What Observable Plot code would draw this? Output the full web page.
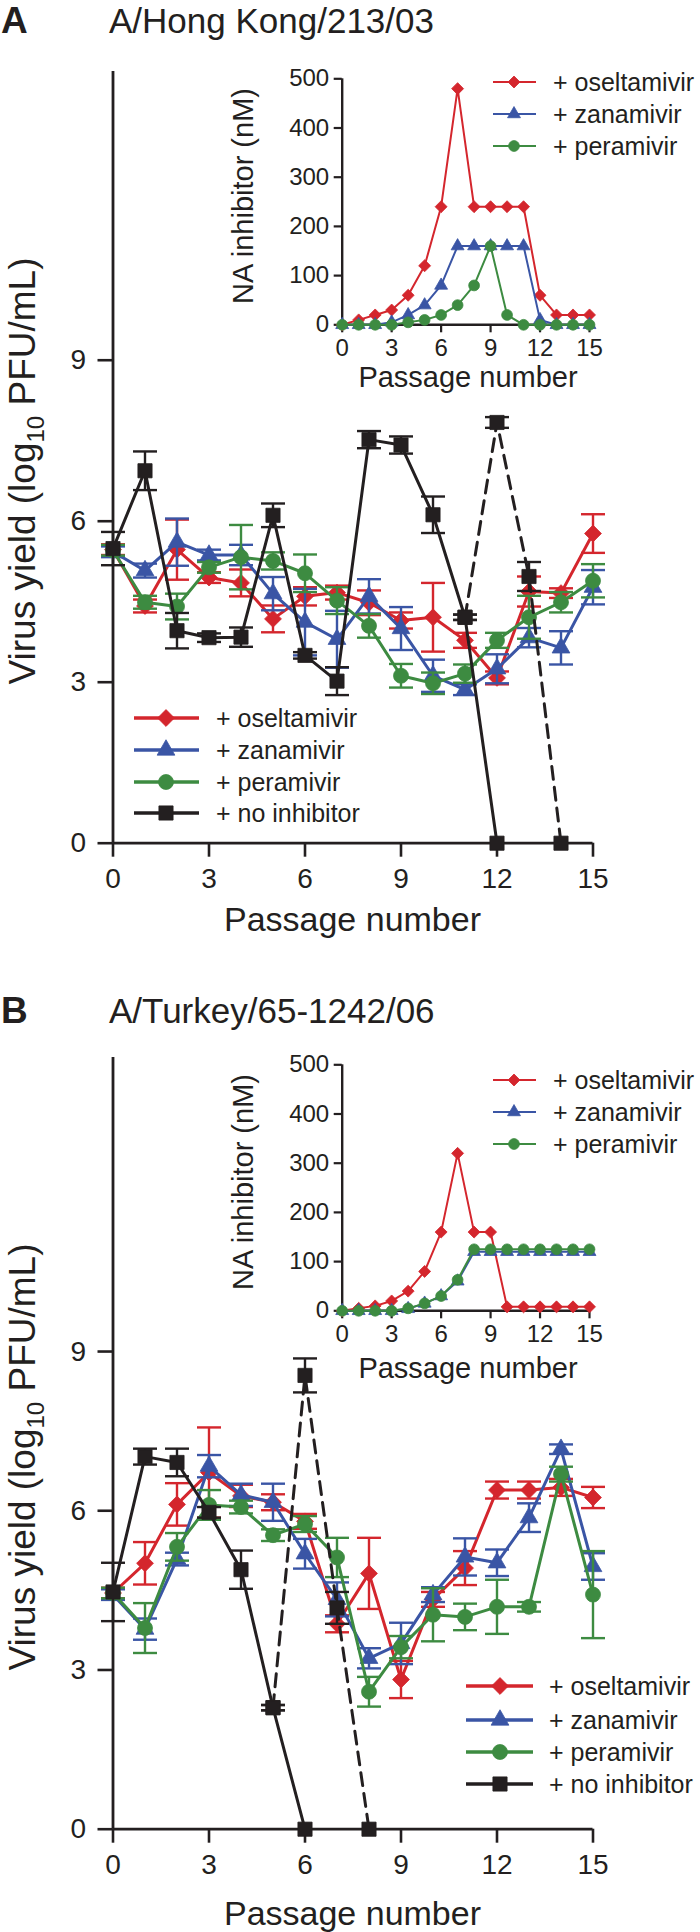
<!DOCTYPE html>
<html><head><meta charset="utf-8">
<script src="https://cdn.jsdelivr.net/npm/d3@7"></script>
<script src="https://cdn.jsdelivr.net/npm/@observablehq/plot@0.6"></script>
<style>
body{margin:0;background:#fff;}
#root{position:relative;width:700px;height:1932px;overflow:hidden;background:#fff;}
.layer{position:absolute;left:0;}
</style></head><body><div id="root"></div>
<script>
// ---------- data ----------
const passages = [0,1,2,3,4,5,6,7,8,9,10,11,12,13,14,15];
const xTicks = [0,3,6,9,12,15];
const yTicksMain = [0,3,6,9];
const yTicksInset = [0,100,200,300,400,500];
const seriesNames = ["+ oseltamivir", "+ zanamivir", "+ peramivir", "+ no inhibitor"];
const panelLetters = ["A", "B"];
const strainNames = ["A/Hong Kong/213/03", "A/Turkey/65-1242/06"];

// Panel A: A/Hong Kong/213/03, virus yield (log10 PFU/mL)
const hkOselt    = [5.47,4.42,5.47,4.95,4.85,4.18,4.60,4.67,4.48,4.15,4.21,3.78,3.08,4.69,4.66,5.77];
const hkOseltErr = [0.10,0.12,0.56,0.10,0.25,0.25,0.17,0.13,0.23,0.15,0.64,0.14,0.12,0.28,0.09,0.36];
const hkZan      = [5.43,5.08,5.61,5.37,5.37,4.65,4.12,3.80,4.60,4.00,3.12,2.86,3.25,3.83,3.64,4.77];
const hkZanErr   = [0.10,0.13,0.44,0.10,0.19,0.31,0.62,0.53,0.32,0.40,0.30,0.10,0.27,0.18,0.31,0.32];
const hkPera     = [5.46,4.49,4.41,5.14,5.33,5.26,5.03,4.52,4.05,3.12,2.98,3.16,3.78,4.21,4.49,4.89];
const hkPeraErr  = [0.10,0.12,0.24,0.10,0.60,0.16,0.35,0.25,0.22,0.22,0.20,0.17,0.14,0.40,0.19,0.31];
const hkNonePass = [0,1,2,3,4,5,6,7,8,9,10,11,12];
const hkNone     = [5.49,6.94,3.96,3.83,3.84,6.11,3.50,3.02,7.52,7.42,6.12,4.21,0];
const hkNoneErr  = [0.31,0.36,0.33,0.08,0.18,0.22,0.06,0.26,0.16,0.16,0.34,0.05,0];
const hkDashPass = [11,12,13,14];
const hkDash     = [4.21,7.84,4.97,0];
const hkDashErr  = [0.05,0.10,0.27,0];
// Panel A inset: NA inhibitor (nM)
const hkDoseOselt = [0,10,20,30,60,120,240,480,240,240,240,240,60,20,20,20];
const hkDoseZan   = [0,0,0,5,20,40,80,160,160,160,160,160,10,0,0,0];
const hkDosePera  = [0,0,0,0,5,10,20,40,80,160,20,0,0,0,0,0];

// Panel B: A/Turkey/65-1242/06
const tkOselt    = [4.45,5.01,6.12,6.72,6.28,6.16,5.80,3.87,4.82,2.82,4.33,4.92,6.39,6.39,6.44,6.25];
const tkOseltErr = [0.10,0.40,0.40,0.85,0.21,0.15,0.14,0.16,0.67,0.35,0.14,0.32,0.16,0.16,0.16,0.20];
const tkZan      = [4.42,3.77,5.09,6.84,6.30,6.16,5.19,4.33,3.22,3.50,4.42,5.13,5.02,5.87,7.16,4.95];
const tkZanErr   = [0.10,0.20,0.12,0.21,0.21,0.35,0.28,0.32,0.19,0.39,0.14,0.35,0.25,0.27,0.09,0.25];
const tkPera     = [4.45,3.79,5.32,6.11,6.07,5.54,5.75,5.12,2.59,3.43,4.04,4.00,4.19,4.19,6.69,4.42];
const tkPeraErr  = [0.10,0.47,0.26,0.28,0.12,0.11,0.15,0.37,0.28,0.21,0.50,0.25,0.51,0.09,0.14,0.82];
const tkNonePass = [0,1,2,3,4,5,6];
const tkNone     = [4.47,7.02,6.91,5.97,4.89,2.29,0];
const tkNoneErr  = [0.55,0.15,0.26,0.10,0.36,0.05,0];
const tkDashPass = [5,6,7,8];
const tkDash     = [2.29,8.55,4.17,0];
const tkDashErr  = [0.05,0.32,0.30,0];
// Panel B inset
const tkDoseOselt = [0,5,10,20,40,80,160,320,160,160,8,8,8,8,8,8];
const tkDoseZan   = [0,0,0,0,4,15,30,60,120,120,120,120,120,120,120,120];
const tkDosePera  = [0,0,0,0,5,15,30,63,125,125,125,125,125,125,125,125];

// ---------- styling ----------
const INK = "#231f20";
const COLORS = ["#d4262d", "#3a55a5", "#3d8b41", INK];
const SYMBOLS = ["diamond2", "triangle", "circle", "square"];
const D3SYM = [d3.symbolDiamond2, d3.symbolTriangle, d3.symbolCircle, d3.symbolSquare];
const MAIN_R = [7.6, 6.6, 7.5, 8];
const INSET_R = [5.4, 4.8, 5.4, 5];
const FONT = '"Liberation Sans", Arial, Helvetica, sans-serif';

const capSym = {draw(ctx, size) { const r = Math.sqrt(size / Math.PI); ctx.moveTo(-r, 0); ctx.lineTo(r, 0); }};

function rows(xs, vs, es) { return xs.map((x, i) => ({x, v: vs[i], e: es ? es[i] : 0})); }

function seriesMarks(data, k, opt) {
  const color = COLORS[k];
  const marks = [];
  if (opt.err) {
    const withErr = data.filter(d => d.e > 0);
    marks.push(
      Plot.ruleX(withErr, {x: "x", y1: d => d.v - d.e, y2: d => d.v + d.e, stroke: color, strokeWidth: 2.4}),
      Plot.dot(withErr, {x: "x", y: d => d.v + d.e, symbol: capSym, r: 12, stroke: color, strokeWidth: 2.4, fill: "none"}),
      Plot.dot(withErr, {x: "x", y: d => d.v - d.e, symbol: capSym, r: 12, stroke: color, strokeWidth: 2.4, fill: "none"})
    );
  }
  marks.push(Plot.line(data, {x: "x", y: "v", stroke: color, strokeWidth: opt.lw, strokeDasharray: opt.dash || null}));
  marks.push(Plot.dot(data, {x: "x", y: "v", symbol: SYMBOLS[k], r: opt.r[k], fill: color, stroke: color, strokeWidth: 0.8}));
  return marks;
}

function legend(svg, items, L) {
  const g = svg.append("g").attr("text-anchor", "start");
  items.forEach((k, i) => {
    const y = L.rows[i];
    g.append("line").attr("x1", L.x1).attr("x2", L.x2).attr("y1", y).attr("y2", y)
      .attr("stroke", COLORS[k]).attr("stroke-width", L.lw);
    g.append("path").attr("transform", `translate(${L.mx},${y})`)
      .attr("d", d3.symbol().type(D3SYM[k]).size(Math.PI * L.r[k] * L.r[k])())
      .attr("fill", COLORS[k]).attr("stroke", COLORS[k]).attr("stroke-width", 0.8);
    g.append("text").attr("x", L.tx).attr("y", y).attr("dy", "0.36em").attr("text-anchor", "start")
      .attr("font-size", L.fs).attr("fill", INK).text(seriesNames[k]);
  });
}

function panel(cfg) {
  const root = document.getElementById("root");
  const main = Plot.plot({
    width: 700, height: cfg.height,
    marginLeft: 112.5, marginRight: 107.5, marginTop: 71, marginBottom: cfg.height - 842.7,
    x: {domain: [0, 15]}, y: {domain: [0, cfg.yMax]},
    style: {fontFamily: FONT, color: INK, background: "transparent", overflow: "visible"},
    marks: [
      Plot.ruleX([0], {stroke: INK, strokeWidth: 2.8}),
      Plot.ruleY([0], {stroke: INK, strokeWidth: 2.8}),
      Plot.axisX({ticks: xTicks, tickSize: 14, tickPadding: 11, fontSize: 28, strokeWidth: 2.6, label: null}),
      Plot.axisY({ticks: yTicksMain, tickSize: 15, tickPadding: 12, fontSize: 28, strokeWidth: 2.6, label: null}),
      ...cfg.series.flatMap(s => seriesMarks(s.data, s.k, {err: true, lw: 3, r: MAIN_R, dash: s.dash}))
    ]
  });
  main.classList.add("layer");
  main.style.top = cfg.top + "px";
  root.appendChild(main);
  const svg = d3.select(main);
  svg.append("text").attr("x", 1).attr("y", cfg.titleY).attr("text-anchor", "start").attr("font-size", 37)
    .attr("font-weight", "bold").attr("fill", INK).text(cfg.letter);
  svg.append("text").attr("x", 109).attr("y", cfg.titleY).attr("text-anchor", "start").attr("font-size", 35)
    .attr("fill", INK).text(cfg.strain);
  svg.append("text").attr("x", 352.5).attr("y", cfg.xLabelY).attr("dy", "0.36em").attr("text-anchor", "middle")
    .attr("font-size", 34).attr("fill", INK).text("Passage number");
  const yl = svg.append("text").attr("transform", `translate(35,471) rotate(-90)`).attr("text-anchor", "middle")
    .attr("font-size", 37).attr("fill", INK);
  yl.append("tspan").text("Virus yield (log");
  yl.append("tspan").attr("font-size", 24).attr("dy", 9).text("10");
  yl.append("tspan").attr("dy", -9).text(" PFU/mL)");
  legend(svg, [0, 1, 2, 3], {x1: cfg.mainLeg.x1, x2: cfg.mainLeg.x2, mx: cfg.mainLeg.mx, tx: cfg.mainLeg.tx,
    rows: cfg.mainLeg.rows, fs: 25, lw: 3.5, r: MAIN_R});

  const inset = Plot.plot({
    width: 700, height: 420,
    marginLeft: 341.7, marginRight: 111, marginTop: 78.3, marginBottom: 420 - 324.3,
    x: {domain: [0, 15]}, y: {domain: [0, 500]},
    style: {fontFamily: FONT, color: INK, background: "transparent", overflow: "visible"},
    marks: [
      Plot.ruleX([0], {stroke: INK, strokeWidth: 2.4}),
      Plot.ruleY([0], {stroke: INK, strokeWidth: 2.4}),
      Plot.axisX({ticks: xTicks, tickSize: 8, tickPadding: 6, fontSize: 24, strokeWidth: 2.2, label: null}),
      Plot.axisY({ticks: yTicksInset, tickSize: 8, tickPadding: 5, fontSize: 24, strokeWidth: 2.2, label: null}),
      ...cfg.doses.flatMap((d, k) => seriesMarks(rows(passages, d), k, {err: false, lw: 2, r: INSET_R}))
    ]
  });
  inset.classList.add("layer");
  inset.style.top = cfg.top + "px";
  root.appendChild(inset);
  const isvg = d3.select(inset);
  isvg.append("text").attr("x", 468).attr("y", cfg.insetXLabelY).attr("dy", "0.36em").attr("text-anchor", "middle")
    .attr("font-size", 29).attr("fill", INK).text("Passage number");
  isvg.append("text").attr("transform", "translate(253,196) rotate(-90)").attr("text-anchor", "middle")
    .attr("font-size", 29).attr("fill", INK).text("NA inhibitor (nM)");
  legend(isvg, [0, 1, 2], {x1: 493, x2: 536, mx: 514, tx: 553, rows: cfg.insetLegRows, fs: 25, lw: 2.2, r: INSET_R});
}

panel({
  top: 0, height: 960, yMax: 14.38, letter: panelLetters[0], strain: strainNames[0], titleY: 33,
  xLabelY: 919, insetXLabelY: 377, insetLegRows: [82, 114, 146],
  mainLeg: {x1: 134, x2: 199, mx: 166, tx: 216, rows: [718, 750, 782, 813]},
  series: [
    {k: 0, data: rows(passages, hkOselt, hkOseltErr)},
    {k: 1, data: rows(passages, hkZan, hkZanErr)},
    {k: 2, data: rows(passages, hkPera, hkPeraErr)},
    {k: 3, data: rows(hkNonePass, hkNone, hkNoneErr)},
    {k: 3, data: rows(hkDashPass, hkDash, hkDashErr), dash: "13,8"}
  ],
  doses: [hkDoseOselt, hkDoseZan, hkDosePera]
});
panel({
  top: 986, height: 946, yMax: 14.54, letter: panelLetters[1], strain: strainNames[1], titleY: 37,
  xLabelY: 927, insetXLabelY: 382, insetLegRows: [94, 126, 158],
  mainLeg: {x1: 466, x2: 533, mx: 500, tx: 549, rows: [700, 734, 766, 798]},
  series: [
    {k: 0, data: rows(passages, tkOselt, tkOseltErr)},
    {k: 1, data: rows(passages, tkZan, tkZanErr)},
    {k: 2, data: rows(passages, tkPera, tkPeraErr)},
    {k: 3, data: rows(tkNonePass, tkNone, tkNoneErr)},
    {k: 3, data: rows(tkDashPass, tkDash, tkDashErr), dash: "13,8"}
  ],
  doses: [tkDoseOselt, tkDoseZan, tkDosePera]
});
</script></body></html>
